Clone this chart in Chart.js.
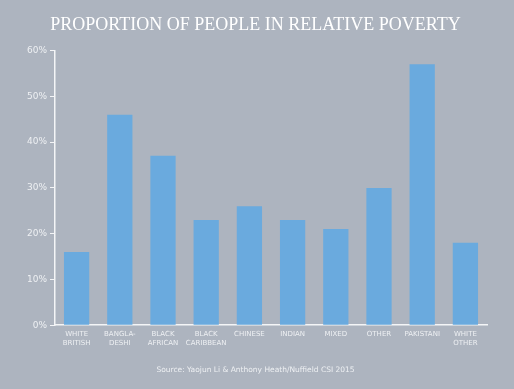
<!DOCTYPE html>
<html>
<head>
<meta charset="utf-8">
<script src="https://cdn.jsdelivr.net/npm/chart.js@4"></script>
<style>
  html, body { margin: 0; padding: 0; background: #adb4bf; }
  #wrap { width: 514px; height: 389px; }
</style>
</head>
<body>
<div id="wrap"><canvas id="povertyChart" width="514" height="389"></canvas></div>
<script>
// Chart data
const groups = [
    ['WHITE', 'BRITISH'], ['BANGLA-', 'DESHI'], ['BLACK', 'AFRICAN'], ['BLACK', 'CARIBBEAN'],
    'CHINESE', 'INDIAN', 'MIXED', 'OTHER', 'PAKISTANI', ['WHITE', 'OTHER']
];
const povertyRate = [16, 46, 37, 23, 26, 23, 21, 30, 57, 18];
const yTicks = [0, 10, 20, 30, 40, 50, 60];

const labelColor = '#eef0f3';
const axisColor = '#f4f5f7';

const ctx = document.getElementById('povertyChart');

new Chart(ctx, {
    type: 'bar',
    data: {
        labels: groups,
        datasets: [{
            data: povertyRate,
            backgroundColor: '#6aaade',
            borderWidth: 0,
            barPercentage: 0.585,
            categoryPercentage: 1
        }]
    },
    options: {
        responsive: false,
        animation: false,
        layout: { padding: { left: 24, right: 27, top: 4, bottom: 8 } },
        scales: {
            x: {
                grid: { drawOnChartArea: false, drawTicks: false },
                border: { color: axisColor, width: 1.5 },
                ticks: {
                    color: labelColor,
                    font: { family: 'DejaVu Sans', size: 7 },
                    padding: 5,
                    maxRotation: 0,
                    autoSkip: false
                }
            },
            y: {
                min: 0,
                max: 60,
                afterBuildTicks: axis => { axis.ticks = yTicks.map(v => ({ value: v })); },
                grid: { drawOnChartArea: false, drawTicks: true, tickLength: 5, color: axisColor },
                border: { color: axisColor, width: 1.5 },
                ticks: {
                    color: labelColor,
                    font: { family: 'DejaVu Sans', size: 9 },
                    padding: 3,
                    callback: v => v + '%'
                }
            }
        },
        plugins: {
            legend: { display: false },
            tooltip: { enabled: false },
            title: {
                display: true,
                text: 'PROPORTION OF PEOPLE IN RELATIVE POVERTY',
                color: '#ffffff',
                font: { family: 'Liberation Serif', size: 18, weight: 'normal' },
                padding: { top: 10, bottom: 15 }
            },
            subtitle: {
                display: true,
                position: 'bottom',
                text: 'Source: Yaojun Li & Anthony Heath/Nuffield CSI 2015',
                color: labelColor,
                font: { family: 'DejaVu Sans', size: 7.5 },
                padding: { top: 14, bottom: 6 }
            }
        }
    }
});
</script>
</body>
</html>
